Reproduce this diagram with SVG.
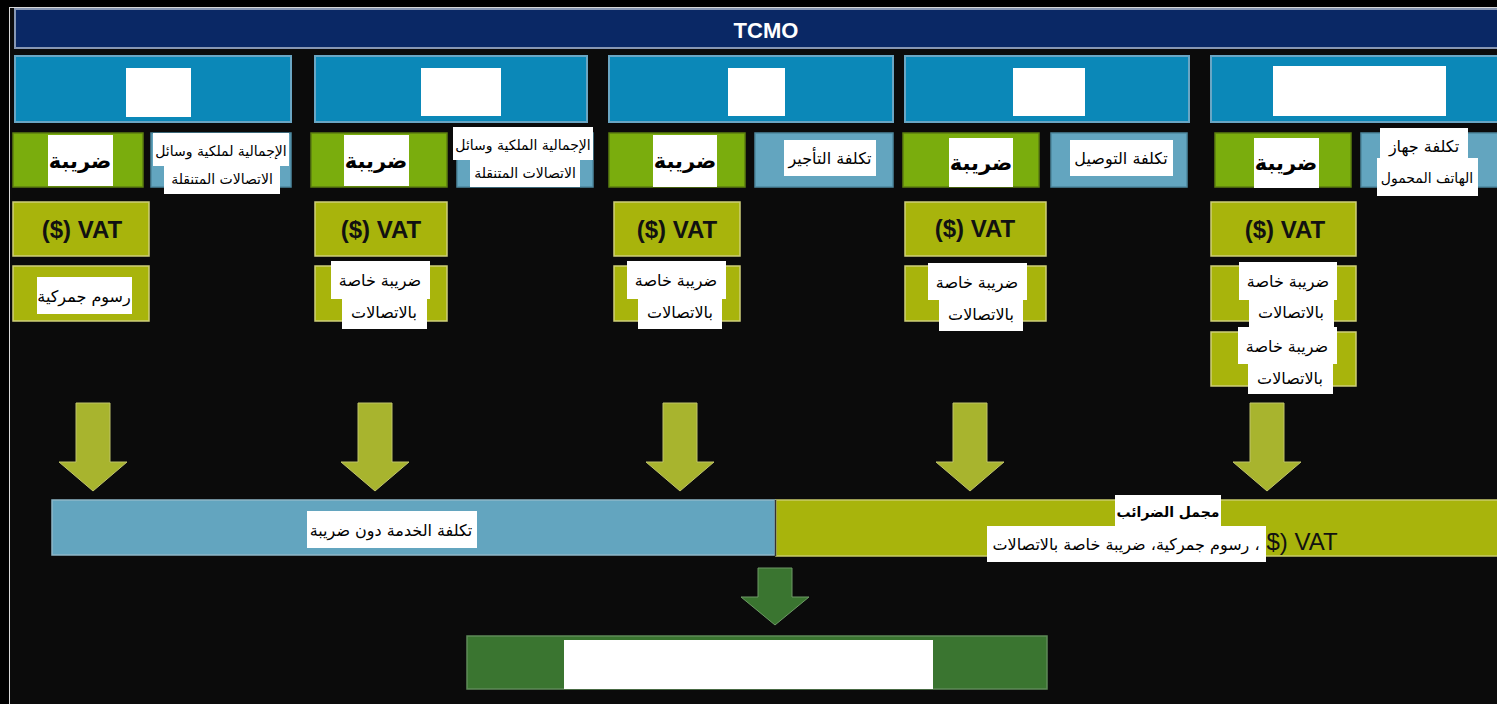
<svg xmlns="http://www.w3.org/2000/svg" width="1497" height="704" viewBox="0 0 1497 704">
<defs>
<style>
.bg{fill:#0b0b0b}
.navy{fill:#0a2865;stroke:#8797b3;stroke-width:2}
.hdr{fill:#0b88b8;stroke:#6aa6c4;stroke-width:2}
.grn{fill:#7aad0d;stroke:#5c7f10;stroke-width:1.5}
.lb{fill:#63a5bf;stroke:#4d889f;stroke-width:1.5}
.olv{fill:#a8b40c;stroke:#cfd07a;stroke-width:1.5}
.wb{fill:#ffffff}
.arr{fill:#a8b42e;stroke:#c0c46a;stroke-width:1}
.arrg{fill:#3a7530;stroke:#6e9a66;stroke-width:1}
.fin{fill:#3a7530;stroke:#5f8a58;stroke-width:1.5}
.lat{font-family:"Liberation Sans",Arial,sans-serif}
.ar{font-family:"DejaVu Sans","Noto Sans",sans-serif;direction:rtl;text-anchor:middle;fill:#000}
.tb{font-size:21px;font-weight:bold}
.ts{font-size:14px}
.tm{font-size:16px}
.vat{font-size:24px;font-weight:bold;fill:#111;text-anchor:middle}
</style>
</defs>
<rect class="bg" x="0" y="0" width="1497" height="704"/>
<rect x="0" y="0" width="1497" height="7" fill="#000"/>
<rect x="0" y="0" width="9" height="704" fill="#000"/>
<line x1="9.5" y1="7" x2="9.5" y2="704" stroke="#d8d8d8" stroke-width="1"/>
<line x1="9" y1="7.5" x2="1497" y2="7.5" stroke="#d8d8d8" stroke-width="1"/>

<g id="tcmo">
<rect class="navy" x="15" y="9" width="1490" height="39"/>
<text class="lat" x="766" y="38" font-size="22" font-weight="bold" fill="#fff" text-anchor="middle">TCMO</text>
</g>

<g id="col1">
<rect class="hdr" x="15" y="56" width="276" height="66"/>
<rect class="wb" x="126" y="68" width="65" height="49"/>
<rect class="grn" x="13" y="133" width="130" height="54"/>
<rect class="wb" x="48" y="135" width="65" height="51"/>
<text class="ar tb" x="80" y="168">ضريبة</text>
<rect class="lb" x="151" y="133" width="140" height="54"/>
<rect class="wb" x="153" y="133" width="136" height="33"/>
<rect class="wb" x="164" y="166" width="116" height="28"/>
<text class="ar ts" x="221" y="156">الإجمالية لملكية وسائل</text>
<text class="ar ts" x="222" y="184">الاتصالات المتنقلة</text>
<rect class="olv" x="13" y="202" width="136" height="54"/>
<text class="lat vat" x="82" y="238">($) VAT</text>
<rect class="olv" x="13" y="266" width="136" height="55"/>
<rect class="wb" x="37" y="277" width="95" height="37"/>
<text class="ar tm" x="84" y="302">رسوم جمركية</text>
</g>

<g id="col2">
<rect class="hdr" x="315" y="56" width="272" height="66"/>
<rect class="wb" x="421" y="68" width="80" height="48"/>
<rect class="grn" x="311" y="133" width="136" height="54"/>
<rect class="wb" x="344" y="135" width="65" height="51"/>
<text class="ar tb" x="376" y="168">ضريبة</text>
<rect class="lb" x="457" y="133" width="136" height="54"/>
<rect class="wb" x="453" y="127" width="140" height="33"/>
<rect class="wb" x="470" y="160" width="110" height="27"/>
<text class="ar ts" x="523" y="150">الإجمالية الملكية وسائل</text>
<text class="ar ts" x="525" y="178">الاتصالات المتنقلة</text>
<rect class="olv" x="315" y="202" width="132" height="54"/>
<text class="lat vat" x="381" y="238">($) VAT</text>
<rect class="olv" x="315" y="266" width="132" height="55"/>
<rect class="wb" x="331" y="261" width="99" height="38"/>
<rect class="wb" x="342" y="299" width="85" height="30"/>
<text class="ar tm" x="380" y="286">ضريبة خاصة</text>
<text class="ar tm" x="384" y="318">بالاتصالات</text>
</g>

<g id="col3">
<rect class="hdr" x="609" y="56" width="284" height="66"/>
<rect class="wb" x="728" y="68" width="57" height="48"/>
<rect class="grn" x="609" y="133" width="136" height="54"/>
<rect class="wb" x="653" y="135" width="64" height="52"/>
<text class="ar tb" x="685" y="168">ضريبة</text>
<rect class="lb" x="755" y="133" width="138" height="54"/>
<rect class="wb" x="784" y="140" width="92" height="36"/>
<text class="ar tm" x="830" y="164">تكلفة التأجير</text>
<rect class="olv" x="614" y="202" width="126" height="54"/>
<text class="lat vat" x="677" y="238">($) VAT</text>
<rect class="olv" x="614" y="266" width="126" height="55"/>
<rect class="wb" x="627" y="261" width="99" height="38"/>
<rect class="wb" x="638" y="299" width="84" height="30"/>
<text class="ar tm" x="676" y="286">ضريبة خاصة</text>
<text class="ar tm" x="680" y="318">بالاتصالات</text>
</g>

<g id="col4">
<rect class="hdr" x="905" y="56" width="284" height="66"/>
<rect class="wb" x="1013" y="68" width="72" height="48"/>
<rect class="grn" x="903" y="133" width="136" height="54"/>
<rect class="wb" x="949" y="138" width="64" height="49"/>
<text class="ar tb" x="981" y="170">ضريبة</text>
<rect class="lb" x="1051" y="133" width="136" height="54"/>
<rect class="wb" x="1070" y="140" width="103" height="36"/>
<text class="ar tm" x="1121" y="164">تكلفة التوصيل</text>
<rect class="olv" x="905" y="202" width="141" height="54"/>
<text class="lat vat" x="975" y="237">($) VAT</text>
<rect class="olv" x="905" y="266" width="141" height="55"/>
<rect class="wb" x="928" y="263" width="99" height="37"/>
<rect class="wb" x="939" y="300" width="84" height="31"/>
<text class="ar tm" x="977" y="288">ضريبة خاصة</text>
<text class="ar tm" x="981" y="320">بالاتصالات</text>
</g>

<g id="col5">
<rect class="hdr" x="1211" y="56" width="294" height="66"/>
<rect class="wb" x="1273" y="66" width="173" height="50"/>
<rect class="grn" x="1215" y="133" width="136" height="54"/>
<rect class="wb" x="1254" y="138" width="65" height="50"/>
<text class="ar tb" x="1286" y="170">ضريبة</text>
<rect class="lb" x="1361" y="133" width="144" height="54"/>
<rect class="wb" x="1380" y="128" width="88" height="34"/>
<rect class="wb" x="1377" y="158" width="101" height="38"/>
<text class="ar tm" x="1424" y="152">تكلفة جهاز</text>
<text class="ar ts" x="1427" y="183">الهاتف المحمول</text>
<rect class="olv" x="1211" y="202" width="145" height="54"/>
<text class="lat vat" x="1285" y="238">($) VAT</text>
<rect class="olv" x="1211" y="266" width="145" height="55"/>
<rect class="wb" x="1239" y="262" width="98" height="38"/>
<rect class="wb" x="1249" y="300" width="85" height="27"/>
<text class="ar tm" x="1288" y="287">ضريبة خاصة</text>
<text class="ar tm" x="1291" y="318">بالاتصالات</text>
<rect class="olv" x="1211" y="332" width="145" height="54"/>
<rect class="wb" x="1238" y="327" width="99" height="37"/>
<rect class="wb" x="1248" y="364" width="85" height="30"/>
<text class="ar tm" x="1287" y="352">ضريبة خاصة</text>
<text class="ar tm" x="1290" y="384">بالاتصالات</text>
</g>

<g id="connectors">
<polygon class="arr" points="76,403 110,403 110,462 127,462 93,491 59,462 76,462"/>
<polygon class="arr" points="358,403 392,403 392,462 409,462 375,491 341,462 358,462"/>
<polygon class="arr" points="663,403 697,403 697,462 714,462 680,491 646,462 663,462"/>
<polygon class="arr" points="953,403 987,403 987,462 1004,462 970,491 936,462 953,462"/>
<polygon class="arr" points="1250,403 1284,403 1284,462 1301,462 1267,491 1233,462 1250,462"/>
<polygon class="arrg" points="758,568 792,568 792,597 809,597 775,625 741,597 758,597"/>
</g>

<g id="service-cost">
<rect class="lb" x="52" y="500" width="723" height="55" style="stroke:#8fb8c9"/>
<rect class="wb" x="307" y="511" width="170" height="37"/>
<text class="ar tm" x="391" y="536">تكلفة الخدمة دون ضريبة</text>
</g>

<g id="total-tax">
<rect class="olv" x="776" y="500" width="729" height="56" style="stroke:#c9cc6a"/>
<line x1="775.5" y1="500" x2="775.5" y2="556" stroke="#333" stroke-width="1.5"/>
<text class="lat" x="1302" y="550" font-size="24" fill="#111" text-anchor="middle">$) VAT</text>
<rect class="wb" x="1115" y="495" width="106" height="31"/>
<text class="ar" x="1168" y="517" font-size="14" font-weight="bold">مجمل الضرائب</text>
<rect class="wb" x="987" y="526" width="279" height="36"/>
<text class="ar" x="1126" y="550" font-size="16">، رسوم جمركية، ضريبة خاصة بالاتصالات</text>
</g>

<g id="final">
<rect class="fin" x="467" y="636" width="580" height="53"/>
<rect class="wb" x="564" y="640" width="369" height="49"/>
</g>
</svg>
